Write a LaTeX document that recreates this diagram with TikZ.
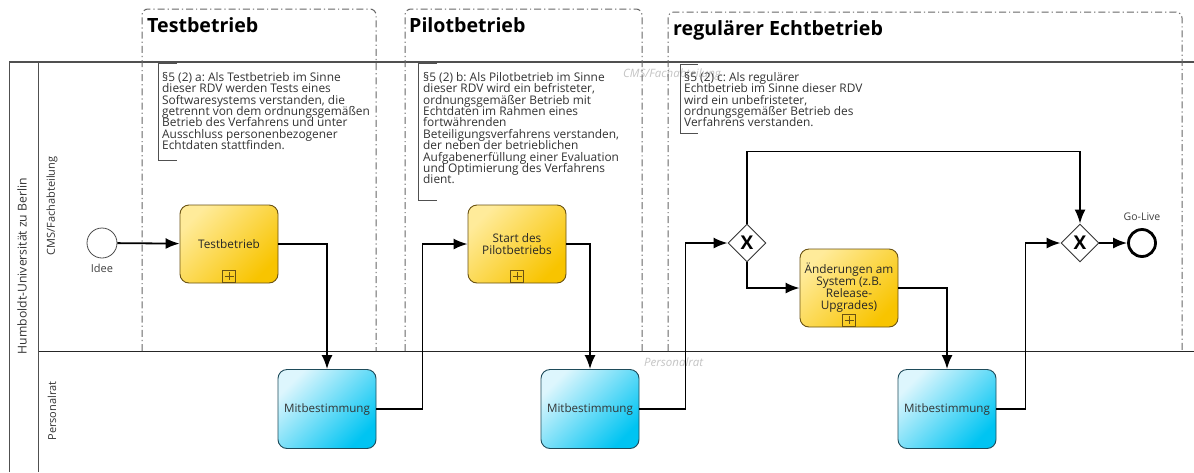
\documentclass[tikz,border=0pt]{standalone}
\usepackage{fontspec}
\setmainfont{Open Sans}
\usetikzlibrary{shapes.geometric,arrows.meta}
\definecolor{yellowlt}{HTML}{FFEB9A}
\definecolor{yellowdk}{HTML}{F8C400}
\definecolor{yellowbd}{HTML}{6A5212}
\definecolor{cyanlt}{HTML}{DDF6FD}
\definecolor{cyandk}{HTML}{00C4F2}
\definecolor{cyanbd}{HTML}{1E4B5A}
\definecolor{linegray}{HTML}{505050}
\definecolor{watergray}{HTML}{C4C4C4}
\newcommand{\notefont}{\fontsize{11.9}{11.4}\selectfont\frenchspacing\setlength{\lineskiplimit}{-20pt}}
\tikzset{
  subproc/.style={rectangle, rounded corners=9pt, draw=yellowbd, line width=0.9pt, minimum width=98pt, minimum height=78pt, align=center, text=black!85, font=\fontsize{11.8}{12}\selectfont, left color=yellowlt, right color=yellowdk, shading angle=45},
  vote/.style={subproc, draw=cyanbd, left color=cyanlt, right color=cyandk, shading angle=45, minimum height=79pt, font=\fontsize{11.6}{12}\selectfont, text=black!80},
  plusmark/.style={rectangle, draw=yellowbd, line width=0.8pt, minimum width=13pt, minimum height=12pt, inner sep=0pt, path picture={\draw[yellowbd, line width=0.8pt] ([yshift=-2pt]path picture bounding box.north) -- ([yshift=2pt]path picture bounding box.south) ([xshift=2pt]path picture bounding box.west) -- ([xshift=-2pt]path picture bounding box.east);}},
  xgate/.style={diamond, draw=black!80, fill=white, line width=0.9pt, minimum size=38pt, inner sep=0pt, font=\bfseries\fontsize{19}{19}\selectfont},
  startev/.style={circle, draw=black!70, fill=white, line width=0.8pt, minimum size=30pt, inner sep=0pt},
  endev/.style={circle, draw=black, fill=white, line width=2.8pt, minimum size=27pt, inner sep=0pt},
  flow/.style={->, line width=1.8pt},
  phase/.style={draw=black!60, line width=1pt, dash pattern=on 7pt off 3pt on 1.2pt off 3pt, rounded corners=6pt},
  phasetitle/.style={anchor=base west, inner sep=0pt, font=\bfseries\fontsize{19.6}{21}\selectfont},
  annot/.style={draw=linegray, line width=1pt},
  annottext/.style={anchor=north west, inner sep=0pt, align=left, text=black!80, font=\notefont},
  lanelabel/.style={rotate=90, inner sep=0pt, text=black!80, font=\fontsize{11}{12}\selectfont},
  watermark/.style={anchor=base west, inner sep=0pt, text=watergray, font=\itshape\fontsize{11.5}{12}\selectfont}
}

\begin{document}
\begin{tikzpicture}[x=1pt, y=-1pt, >={Latex[length=14pt,width=11pt]}]
\fill[white] (0,0) rectangle (1194,472);
\useasboundingbox (0,0) rectangle (1194,472);

%pool and lanes
\draw[linegray, line width=1.2pt] (9.5,472) -- (9.5,62) -- (1194,62);
\draw[linegray, line width=1.2pt] (38.5,62) -- (38.5,472);
\draw[black!85, line width=1pt] (38.5,351.5) -- (1194,351.5);
\node[lanelabel, font=\fontsize{12.2}{13}\selectfont] (pool) at (22,266) {Humboldt-Universität zu Berlin};
\node[lanelabel] (laneA) at (52,206) {CMS/Fachabteilung};
\node[lanelabel] (laneB) at (52,411) {Personalrat};
\node[watermark] (wmA) at (623,77) {CMS/Fachabteilung};
\node[watermark] (wmB) at (644,366) {Personalrat};

%phases
\draw[phase] (142,351) -- (142,9) -- (376,9) -- (376,351);
\draw[phase] (405,351) -- (405,9) -- (642,9) -- (642,351);
\draw[phase] (668,351) -- (668,12) -- (1182,12) -- (1182,351);
\node[phasetitle] (phA) at (147,32) {Testbetrieb};
\node[phasetitle] (phB) at (409,32) {Pilotbetrieb};
\node[phasetitle] (phC) at (673,35) {regulärer Echtbetrieb};

%annotations
\draw[annot] (177,63) -| (158,160) -- (177,160);
\draw[annot] (437,63) -| (418,200) -- (437,200);
\draw[annot] (698,64) -| (680,133) -- (698,133);
\node[annottext] (noteA) at (162,72) {§5 (2) a: Als Testbetrieb im Sinne\\dieser RDV werden Tests eines\\Softwaresystems verstanden, die\\getrennt von dem ordnungsgemäßen\\Betrieb des Verfahrens und unter\\Ausschluss personenbezogener\\Echtdaten stattfinden.};
\node[annottext] (noteB) at (423,72) {§5 (2) b: Als Pilotbetrieb im Sinne\\dieser RDV wird ein befristeter,\\ordnungsgemäßer Betrieb mit\\Echtdaten im Rahmen eines\\fortwährenden\\Beteiligungsverfahrens verstanden,\\der neben der betrieblichen\\Aufgabenerfüllung einer Evaluation\\und Optimierung des Verfahrens\\dient.};
\node[annottext] (noteC) at (684,72) {§5 (2) c: Als regulärer\\Echtbetrieb im Sinne dieser RDV\\wird ein unbefristeter,\\ordnungsgemäßer Betrieb des\\Verfahrens verstanden.};

%events and gateways
\node[startev] (idee) at (102,243) {};
\node[font=\fontsize{11}{12}\selectfont, text=black!75] (ideeL) at (102,268) {Idee};
\node[xgate] (gw1) at (747,243) {X};
\node[xgate] (gw2) at (1080,243) {X};
\node[endev] (golive) at (1142,243) {};
\node[font=\fontsize{10.5}{12}\selectfont, text=black!75] (goliveL) at (1142,217) {Go-Live};

%tasks
\node[subproc] (tb) at (229,244) {Testbetrieb};
\node[plusmark] (tbM) at (229,276) {};
\node[subproc] (pb) at (517,244) {Start des\\Pilotbetriebs};
\node[plusmark] (pbM) at (517,276) {};
\node[subproc, inner sep=2pt] (aend) at (849,288) {Änderungen am\\System (z.B.\\Release-\\Upgrades)};
\node[plusmark] (aendM) at (849,320) {};
\node[vote] (mb1) at (327,409) {Mitbestimmung};
\node[vote] (mb2) at (590,409) {Mitbestimmung};
\node[vote] (mb3) at (947,409) {Mitbestimmung};

%sequence flows
\draw[flow] (idee) -- (tb);
\draw[flow] (tb) -| (mb1);
\draw[flow] (mb1.east) -- ++(46,0) |- (pb.west);
\draw[flow] (pb) -| (mb2);
\draw[flow] (mb2.east) -- ++(46,0) |- (gw1.west);
\draw[flow] (gw1.north) -- ++(0,-72) -| (gw2.north);
\draw[flow] (gw1.south) |- (aend.west);
\draw[flow] (aend) -| (mb3);
\draw[flow] (mb3.east) -- ++(29,0) |- (gw2.west);
\draw[flow] (gw2) -- (golive);
\end{tikzpicture}
\end{document}
